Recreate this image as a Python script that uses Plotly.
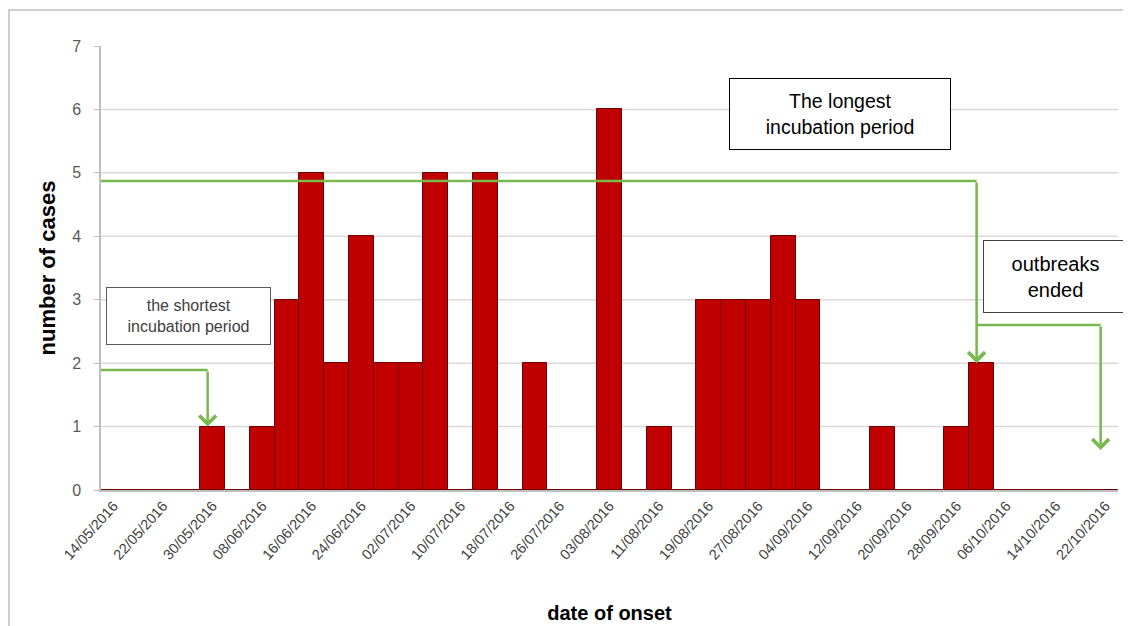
import plotly.graph_objects as go

# ---- data ----
# number of cases per 4-day bin (41 bins, first bin starts 14/05/2016)
cases = [0, 0, 0, 0, 1, 0, 1, 3, 5, 2,
         4, 2, 2, 5, 0, 5, 0, 2, 0, 0,
         6, 0, 1, 0, 3, 3, 3, 4, 3, 0,
         0, 1, 0, 0, 1, 2, 0, 0, 0, 0,
         0]
tick_labels = ["14/05/2016", "22/05/2016", "30/05/2016", "08/06/2016", "16/06/2016",
               "24/06/2016", "02/07/2016", "10/07/2016", "18/07/2016", "26/07/2016",
               "03/08/2016", "11/08/2016", "19/08/2016", "27/08/2016", "04/09/2016",
               "12/09/2016", "20/09/2016", "28/09/2016", "06/10/2016", "14/10/2016",
               "22/10/2016"]
y_ticks = [0, 1, 2, 3, 4, 5, 6, 7]

bins = list(range(len(cases)))
tick_pos = bins[::2]

GREEN = "#77B94D"
GRID = "#D9D9D9"

fig = go.Figure()
fig.add_trace(go.Bar(
    x=bins, y=cases,
    marker=dict(color="#C00000", line=dict(color="#6E0000", width=1)),
    width=1.0,
    hoverinfo="x+y",
))

shapes = []
# gridlines (no line at the top value)
for v in y_ticks[1:-1]:
    shapes.append(dict(type="line", xref="paper", yref="y", x0=0, x1=1, y0=v, y1=v,
                       line=dict(color=GRID, width=1.5), layer="below"))
# outer chart border
shapes.append(dict(type="rect", xref="paper", yref="paper", x0=-0.0905, x1=1.05,
                   y0=-0.4, y1=1.081, line=dict(color="#BFBFBF", width=1.5), layer="below"))
# green guide lines
shapes.append(dict(type="path", xref="x", yref="y", path="M -0.5,1.89 L 3.8,1.89",
                   line=dict(color=GREEN, width=2.5)))
shapes.append(dict(type="path", xref="x", yref="y", path="M -0.5,4.87 L 34.8,4.87",
                   line=dict(color=GREEN, width=2.5)))
shapes.append(dict(type="path", xref="x", yref="y", path="M 34.8,2.6 L 39.8,2.6",
                   line=dict(color=GREEN, width=2.5)))

annotations = []
# arrows (vertical segments with heads)
for (xh, yh, yt) in [(3.8, 1.0, 1.89), (34.8, 2.0, 4.87), (39.8, 0.63, 2.6)]:
    annotations.append(dict(x=xh, y=yh, ax=xh, ay=yt, xref="x", yref="y", axref="x", ayref="y",
                            showarrow=True, arrowhead=4, arrowsize=1.3, arrowwidth=2.5,
                            arrowcolor=GREEN, standoff=0, text=""))
# text boxes
annotations.append(dict(x=3.03, y=2.74, xref="x", yref="y", showarrow=False,
                        text="the shortest<br>incubation period",
                        font=dict(family="Arial", size=16, color="#404040"),
                        bgcolor="white", bordercolor="#595959", borderwidth=1, borderpad=0,
                        width=163, height=56))
annotations.append(dict(x=29.3, y=5.93, xref="x", yref="y", showarrow=False,
                        text="The longest<br>incubation period",
                        font=dict(family="Arial", size=19.5, color="black"),
                        bgcolor="white", bordercolor="black", borderwidth=1, borderpad=0,
                        width=220, height=70))
annotations.append(dict(x=37.99, y=3.37, xref="x", yref="y", showarrow=False,
                        text="outbreaks<br>ended",
                        font=dict(family="Arial", size=20, color="black"),
                        bgcolor="white", bordercolor="#404040", borderwidth=1, borderpad=0,
                        width=143, height=71))

fig.update_layout(
    width=1131, height=626,
    margin=dict(l=93, r=21, t=38, b=144, autoexpand=False),
    paper_bgcolor="white", plot_bgcolor="white",
    showlegend=False,
    bargap=0,
    shapes=shapes,
    annotations=annotations,
    font=dict(family="Arial"),
    xaxis=dict(
        range=[-0.5, len(cases) - 0.5],
        tickmode="array", tickvals=tick_pos, ticktext=tick_labels,
        tickangle=-48, tickfont=dict(size=14.5, color="#404040"),
        showgrid=False, showline=True, linecolor="#BFBFBF", linewidth=1.5,
        ticks="", zeroline=False,
        title=dict(text="<b>date of onset</b>", font=dict(size=20, color="black"), standoff=44),
    ),
    yaxis=dict(
        range=[0, 7], tickmode="array", tickvals=y_ticks,
        tickfont=dict(size=16, color="#595959"),
        ticklabelstandoff=10,
        showgrid=False, showline=True, linecolor="#BFBFBF", linewidth=1.5,
        ticks="outside", ticklen=5, tickcolor="#BFBFBF", zeroline=False,
        title=dict(text="<b>number of cases</b>", font=dict(size=22, color="black"), standoff=10),
    ),
)

fig.write_html("out.html")
